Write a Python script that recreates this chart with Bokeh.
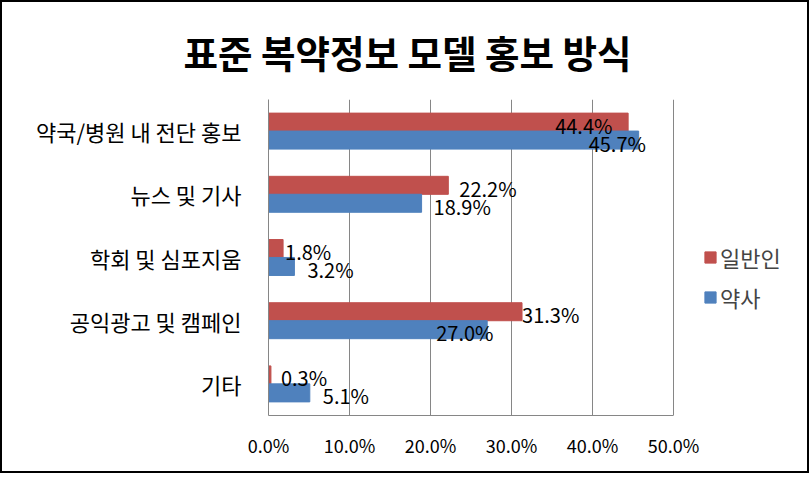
from bokeh.plotting import figure
from bokeh.models import (FactorRange, Range1d, FixedTicker, PrintfTickFormatter,
                          Legend, LegendItem, ColumnDataSource)
from bokeh.transform import dodge
from bokeh.core.properties import value
from bokeh.embed import file_html
from bokeh.resources import INLINE

# ---------------- data ----------------
title_text = "표준 복약정보 모델 홍보 방식"
categories = ["약국/병원 내 전단 홍보", "뉴스 및 기사", "학회 및 심포지움", "공익광고 및 캠페인", "기타"]
series_names = ["일반인", "약사"]
public_values = [44.4, 22.2, 1.8, 31.3, 0.3]
pharmacist_values = [45.7, 18.9, 3.2, 27.0, 5.1]
x_ticks = [0, 10, 20, 30, 40, 50]

# ---------------- style ----------------
FONT = "Noto Sans CJK KR"
RED = "#C0504D"
BLUE = "#4F81BD"
GRID = "#868686"
public_label_dx = [-73, 11, 2, 0, 10]
pharm_label_dx = [-50, 12, 13, -51, 13]

src = ColumnDataSource(dict(
    cat=categories,
    pub=public_values,
    pha=pharmacist_values,
    pub_lbl=[f"{v:.1f}%" for v in public_values],
    pha_lbl=[f"{v:.1f}%" for v in pharmacist_values],
    pub_dx=public_label_dx,
    pha_dx=pharm_label_dx,
))

# frame spans the legend area too; 50% sits at 405 px from the frame's left edge
FRAME_W = 533
X_END = 50 * FRAME_W / 405.0

p = figure(width=809, height=473,
           y_range=FactorRange(factors=categories[::-1]),
           x_range=Range1d(0, X_END),
           output_backend="svg", toolbar_location=None,
           min_border_left=266, min_border_right=809 - 266 - FRAME_W,
           min_border_top=97, min_border_bottom=60)
p.styles = {"border": "2px solid black"}
p.outline_line_color = None
p.background_fill_color = "white"
p.border_fill_color = "white"

off = 0.142
bh = 0.285
r_pub = p.hbar(y=dodge("cat", off, range=p.y_range), right="pub", left=0, height=bh,
               color=RED, source=src)
r_pha = p.hbar(y=dodge("cat", -off, range=p.y_range), right="pha", left=0, height=bh,
               color=BLUE, source=src)

p.text(x="pub", y=dodge("cat", off, range=p.y_range), text="pub_lbl", x_offset="pub_dx",
       y_offset=3, text_font=value(FONT), text_font_size="20px", text_baseline="middle",
       text_align="left", text_color="black", source=src)
p.text(x="pha", y=dodge("cat", -off, range=p.y_range), text="pha_lbl", x_offset="pha_dx",
       y_offset=3, text_font=value(FONT), text_font_size="20px", text_baseline="middle",
       text_align="left", text_color="black", source=src)

# axes / grid
p.ygrid.visible = False
p.xgrid.ticker = FixedTicker(ticks=x_ticks)
p.xgrid.grid_line_color = GRID
p.xaxis.ticker = FixedTicker(ticks=x_ticks)
p.xaxis.bounds = (x_ticks[0], x_ticks[-1])
p.xaxis.formatter = PrintfTickFormatter(format="%.1f%%")
p.xaxis.axis_line_color = GRID
p.xaxis.major_tick_line_color = None
p.xaxis.minor_tick_line_color = None
p.xaxis.major_label_text_font = FONT
p.xaxis.major_label_text_font_size = "18px"
p.xaxis.major_label_text_color = "black"
p.xaxis.major_label_standoff = 10

p.yaxis.axis_line_color = GRID
p.yaxis.major_tick_line_color = None
p.yaxis.minor_tick_line_color = None
p.yaxis.major_label_text_font = FONT
p.yaxis.major_label_text_font_size = "22px"
p.yaxis.major_label_text_color = "black"
p.yaxis.major_label_standoff = 21

# title (its panel must stay within the 97 px above the frame)
p.title.text = title_text
p.title.text_font = FONT
p.title.text_font_size = "37.5px"
p.title.text_font_style = "bold"
p.title.text_color = "black"
p.title.align = "left"
p.title.vertical_align = "top"
p.title.offset = -85
p.title.standoff = 38

legend = Legend(items=[LegendItem(label=series_names[0], renderers=[r_pub]),
                       LegendItem(label=series_names[1], renderers=[r_pha])],
                location=(435, 102), glyph_width=14, glyph_height=14,
                label_text_font=FONT, label_text_font_size="22px", label_standoff=3,
                spacing=8, padding=0, margin=0, border_line_color=None,
                background_fill_alpha=0)
p.add_layout(legend, "center")

open("out.html", "w").write(file_html(p, INLINE))
